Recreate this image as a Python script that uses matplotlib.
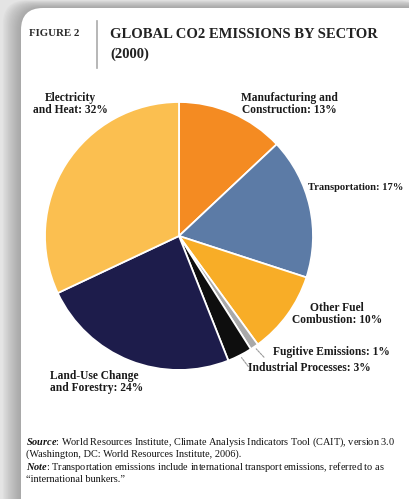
import numpy as np
import matplotlib
matplotlib.use("Agg")
import matplotlib.pyplot as plt
from matplotlib.patches import FancyBboxPatch

# data
sectors = ["Manufacturing and\nConstruction: 13%", "Transportation: 17%",
           "Other Fuel\nCombustion: 10%", "Fugitive Emissions: 1%",
           "Industrial Processes: 3%", "Land-Use Change\nand Forestry: 24%",
           "Electricity\nand Heat: 32%"]
shares = [13, 17, 10, 1, 3, 24, 32]
colors = ["#F48B22", "#5C7BA6", "#F8AD27", "#A9A9A9", "#0E0E0E", "#1D1C4B", "#FBBF50"]

W, H = 409, 499
plt.rcParams["font.family"] = ["Liberation Serif", "DejaVu Serif"]
plt.rcParams["mathtext.fontset"] = "custom"
plt.rcParams["mathtext.it"] = "Liberation Serif:italic:bold"

fig = plt.figure(figsize=(W / 100, H / 100), dpi=100)
fig.patch.set_facecolor("#e4e4e4")


def fx(x):
    return x / W


def fy(y):
    return 1 - y / H


# background card with soft shadow
bg = fig.add_axes([0, 0, 1, 1], zorder=-5)
bg.set_xlim(0, W)
bg.set_ylim(H, 0)
bg.axis("off")
for k in range(14, 0, -1):
    sh = FancyBboxPatch((21 - k * 1.3, 8 - k * 0.55), 420, 520,
                        boxstyle="round,pad=0,rounding_size=24",
                        facecolor="#707070", edgecolor="none", alpha=0.045)
    bg.add_patch(sh)
card = FancyBboxPatch((21, 8), 420, 520, boxstyle="round,pad=0,rounding_size=22",
                      facecolor="white", edgecolor="none")
bg.add_patch(card)

# header
fig.text(fx(29), fy(34), "FIGURE 2", fontsize=7.8, fontweight="bold",
         color="#2a2a2a", va="center", ha="left")
bg.plot([97, 97], [21, 68], color="#aaaaaa", lw=1.2)
fig.text(fx(110), fy(34), "GLOBAL CO2 EMISSIONS BY SECTOR", fontsize=10.5,
         fontweight="bold", color="#222222", va="center", ha="left")
fig.text(fx(110), fy(54), "(2000)", fontsize=10.5, fontweight="bold",
         color="#222222", va="center", ha="left")

# pie
cx, cy, r = 179, 236, 134
ax = fig.add_axes([fx(cx - r), fy(cy + r), 2 * r / W, 2 * r / H])
wedges, _ = ax.pie(shares, colors=colors, startangle=90, counterclock=False,
                   wedgeprops=dict(edgecolor="white", linewidth=1.3))
ax.set_xlim(-1, 1)
ax.set_ylim(-1, 1)
ax.axis("off")
for w in wedges:
    w.set_clip_on(False)

# leader lines for the two small slices
for i in (3, 4):
    w = wedges[i]
    a = np.deg2rad((w.theta1 + w.theta2) / 2)
    ax.annotate("", xy=(1.0 * np.cos(a), 1.0 * np.sin(a)),
                xytext=(1.1 * np.cos(a) + 0.03, 1.1 * np.sin(a) - 0.01),
                arrowprops=dict(arrowstyle="-", color="#999999", lw=0.8,
                                linestyle=(0, (2, 1))),
                annotation_clip=False)

lab_kw = dict(fontsize=8.3, fontweight="bold", color="#1a1a1a", linespacing=1.1)
fig.text(fx(70), fy(104), sectors[6], ha="center", va="center", **lab_kw)
fig.text(fx(289), fy(104), sectors[0], ha="center", va="center", **lab_kw)
fig.text(fx(308), fy(187), sectors[1], ha="left", va="center",
         **{**lab_kw, "fontsize": 7.6})
fig.text(fx(337), fy(314), sectors[2], ha="center", va="center", **lab_kw)
fig.text(fx(273), fy(352), sectors[3], ha="left", va="center", **lab_kw)
fig.text(fx(248), fy(368), sectors[4], ha="left", va="center", **lab_kw)
fig.text(fx(50), fy(382), sectors[5], ha="left", va="center", **lab_kw)

# source and note
src_kw = dict(fontsize=7.4, color="#111111", ha="left", va="center")
fig.text(fx(26), fy(442),
         r"$\it{Source}$: World Resources Institute, Climate Analysis Indicators Tool (CAIT), version 3.0",
         **src_kw)
fig.text(fx(26), fy(454), "(Washington, DC: World Resources Institute, 2006).", **src_kw)
fig.text(fx(26), fy(467),
         r"$\it{Note}$: Transportation emissions include international transport emissions, referred to as",
         **src_kw)
fig.text(fx(26), fy(479), "\u201cinternational bunkers.\u201d", **src_kw)

fig.savefig("out.png", dpi=100, facecolor=fig.get_facecolor())
